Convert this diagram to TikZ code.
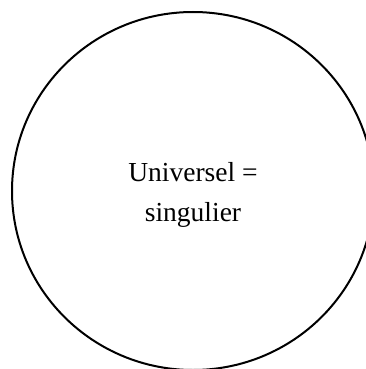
\documentclass[tikz,border=0pt]{standalone}
\usepackage{fontspec}
\setmainfont{Liberation Serif}
\begin{document}
\begin{tikzpicture}[x=1pt,y=1pt,
  ring/.style={draw=black,line width=2pt},
  label/.style={anchor=base,inner sep=0pt,font=\fontsize{27.5}{40}\selectfont}]
\useasboundingbox (0,0) rectangle (366,-369);
\clip (0,0) rectangle (366,-369);
\draw[ring] (193,-191) ellipse[x radius=181,y radius=179];
\node[label] (l1) at (193,-181.7) {Universel =};
\node[label] (l2) at (193,-221) {singulier};
\end{tikzpicture}
\end{document}
